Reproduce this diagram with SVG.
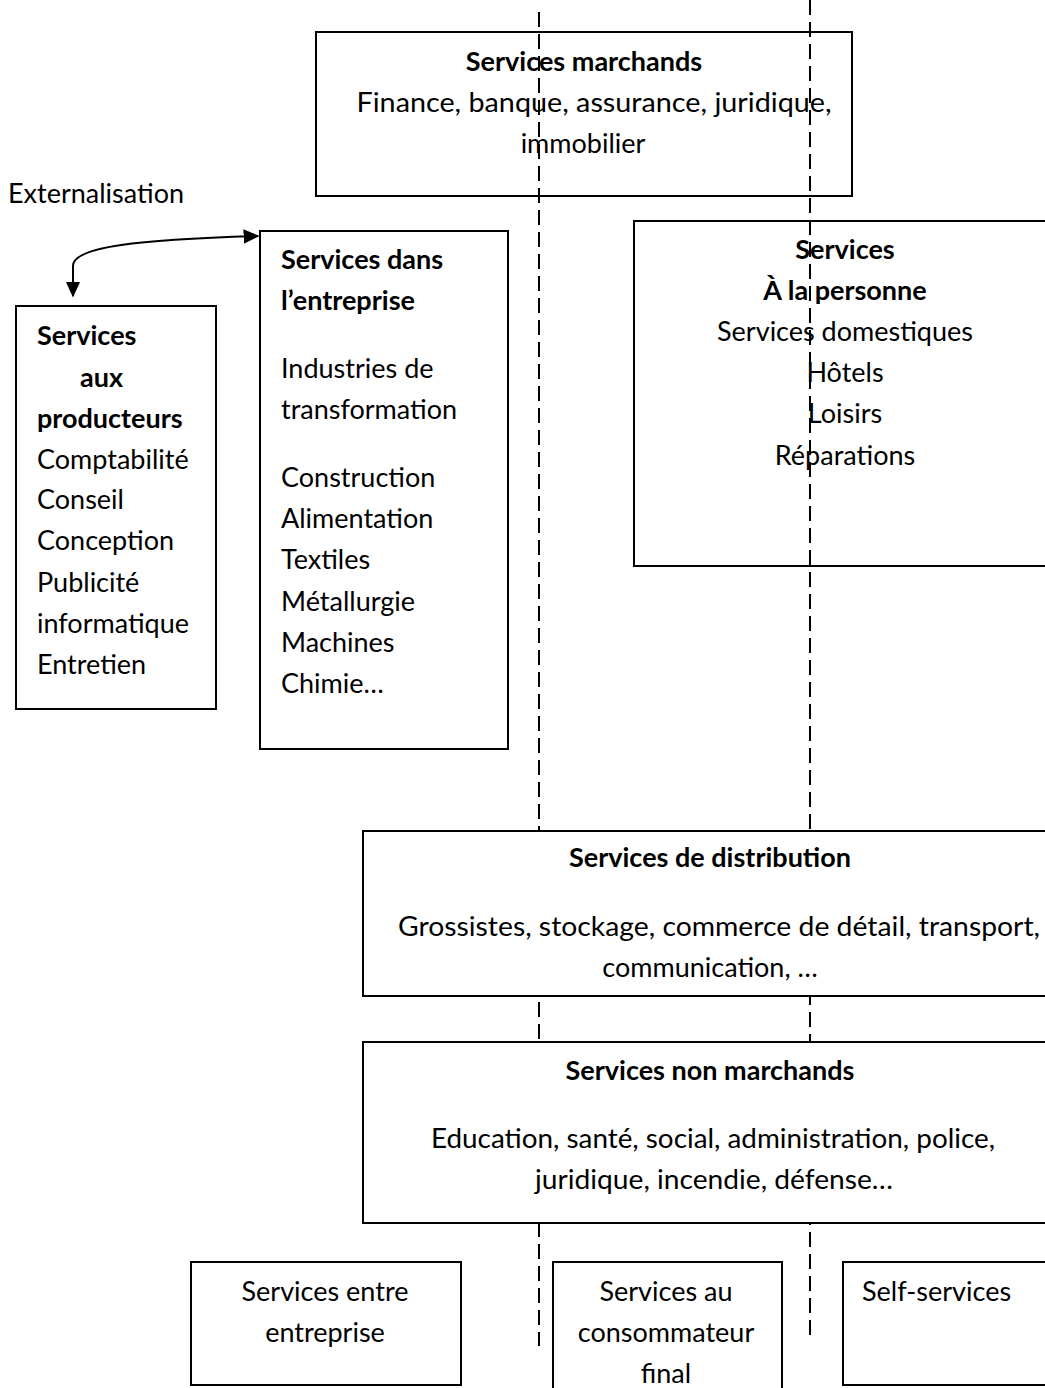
<svg xmlns="http://www.w3.org/2000/svg" width="1045" height="1388" viewBox="0 0 1045 1388">
  <defs>
    <style>
      text { font-family: Lato, "Liberation Sans", sans-serif; font-size: 27px; fill: #000; }
      .b { font-weight: bold; }
      .c { text-anchor: middle; }
      .box { fill: none; stroke: #000; stroke-width: 2; }
      .boxw { fill: #fff; stroke: #000; stroke-width: 2; }
      .guide { fill: none; stroke: #000; stroke-width: 2; stroke-dasharray: 15 7; }
      .link { fill: none; stroke: #000; stroke-width: 2; }
    </style>
    <marker id="arrow" viewBox="0 0 10 10" refX="9" refY="5" markerWidth="16" markerHeight="16" markerUnits="userSpaceOnUse" orient="auto-start-reverse">
      <path d="M0,0.5 L10,5 L0,9.5 Z" fill="#000"/>
    </marker>
  </defs>

  <rect width="1045" height="1388" fill="#fff"/>

  <g id="marchands">
    <rect class="box" x="316" y="32" width="536" height="164"/>
    <text class="b c" x="584" y="71">Services marchands</text>
    <text class="c" x="594" y="112" textLength="475" lengthAdjust="spacingAndGlyphs">Finance, banque, assurance, juridique,</text>
    <text class="c" x="583" y="153">immobilier</text>
  </g>

  <g id="personne">
    <rect class="box" x="634" y="221" width="420" height="345"/>
    <text class="b c" x="845" y="259">Services</text>
    <text class="b c" x="845" y="300">À la personne</text>
    <text class="c" x="845" y="341">Services domestiques</text>
    <text class="c" x="845" y="382">Hôtels</text>
    <text class="c" x="845" y="423">Loisirs</text>
    <text class="c" x="845" y="465">Réparations</text>
  </g>

  <!-- dashed column separators; the white boxes below cover them -->
  <g id="guides">
    <line class="guide" x1="539" y1="12" x2="539" y2="1346"/>
    <line class="guide" x1="810" y1="0" x2="810" y2="1340"/>
  </g>

  <text x="8" y="203">Externalisation</text>

  <g id="connectors">
    <path class="link" d="M258,236 C140,240 73,246 73,266 L73,296" marker-start="url(#arrow)" marker-end="url(#arrow)"/>
  </g>

  <g id="producteurs">
    <rect class="box" x="16" y="306" width="200" height="403"/>
    <text class="b" x="37" y="345">Services</text>
    <text class="b" x="80" y="387">aux</text>
    <text class="b" x="37" y="428">producteurs</text>
    <text x="37" y="469">Comptabilité</text>
    <text x="37" y="509">Conseil</text>
    <text x="37" y="550">Conception</text>
    <text x="37" y="592">Publicité</text>
    <text x="37" y="633">informatique</text>
    <text x="37" y="674">Entretien</text>
  </g>

  <g id="entreprise">
    <rect class="box" x="260" y="231" width="248" height="518"/>
    <text class="b" x="281" y="269">Services dans</text>
    <text class="b" x="281" y="310">l’entreprise</text>
    <text x="281" y="378">Industries de</text>
    <text x="281" y="419">transformation</text>
    <text x="281" y="487">Construction</text>
    <text x="281" y="528">Alimentation</text>
    <text x="281" y="569">Textiles</text>
    <text x="281" y="611">Métallurgie</text>
    <text x="281" y="652">Machines</text>
    <text x="281" y="693">Chimie…</text>
  </g>

  <g id="distribution">
    <rect class="boxw" x="363" y="831" width="690" height="165"/>
    <text class="b c" x="710" y="867">Services de distribution</text>
    <text class="c" x="719" y="936" textLength="642" lengthAdjust="spacingAndGlyphs">Grossistes, stockage, commerce de détail, transport,</text>
    <text class="c" x="710" y="977">communication, …</text>
  </g>

  <g id="non-marchands">
    <rect class="boxw" x="363" y="1042" width="690" height="181"/>
    <text class="b c" x="710" y="1080">Services non marchands</text>
    <text class="c" x="713" y="1148" textLength="564" lengthAdjust="spacingAndGlyphs">Education, santé, social, administration, police,</text>
    <text class="c" x="714" y="1189" textLength="358" lengthAdjust="spacingAndGlyphs">juridique, incendie, défense…</text>
  </g>

  <g id="entre-entreprise">
    <rect class="box" x="191" y="1262" width="270" height="123"/>
    <text class="c" x="325" y="1301">Services entre</text>
    <text class="c" x="325" y="1342">entreprise</text>
  </g>

  <g id="consommateur">
    <rect class="box" x="553" y="1262" width="229" height="140"/>
    <text class="c" x="666" y="1301">Services au</text>
    <text class="c" x="666" y="1342">consommateur</text>
    <text class="c" x="666" y="1383">final</text>
  </g>

  <g id="self-services">
    <rect class="box" x="843" y="1262" width="210" height="123"/>
    <text x="862" y="1301">Self-services</text>
  </g>
</svg>
